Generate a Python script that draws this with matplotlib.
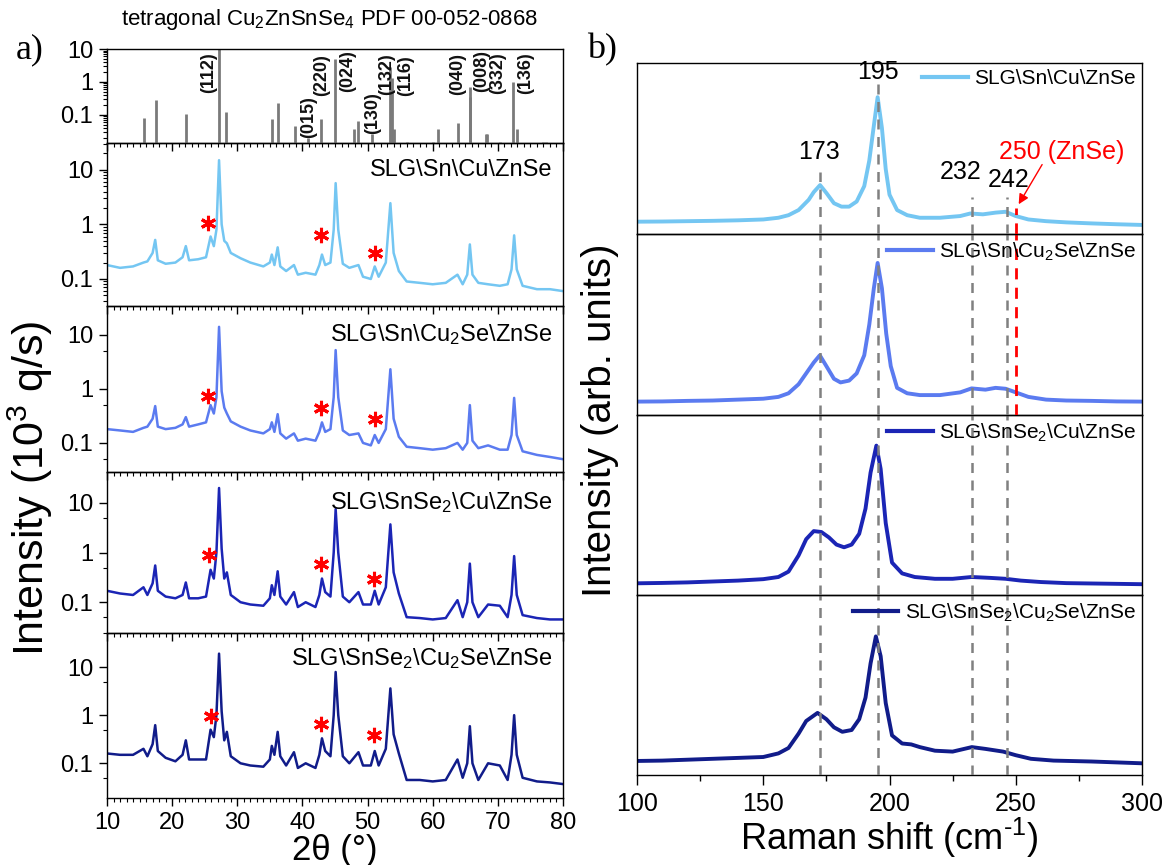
import matplotlib
matplotlib.use("Agg")
import matplotlib.pyplot as plt
from matplotlib.ticker import FixedLocator, MultipleLocator, LogLocator, NullFormatter, NullLocator, FixedFormatter

plt.rcParams['font.family'] = ['Liberation Sans', 'DejaVu Sans']
plt.rcParams['mathtext.fontset'] = 'custom'
plt.rcParams['mathtext.rm'] = 'Liberation Sans'
plt.rcParams['mathtext.it'] = 'Liberation Sans:italic'
plt.rcParams['mathtext.bf'] = 'Liberation Sans:bold'

# ---------------- data: (a) XRD ----------------
pdf_title = r"tetragonal Cu$_2$ZnSnSe$_4$ PDF 00-052-0868"
pdf_pos = [15.7, 17.5, 22.1, 27.2, 28.2, 35.3, 36.2, 38.9, 40.9, 42.8, 45.06, 47.96, 48.6, 50.7,
           53.4, 53.7, 54.1, 56.0, 60.0, 60.8, 63.9, 65.7, 65.8, 68.2, 68.4, 70.3, 72.3, 72.9, 76.9, 77.4]
pdf_int = [0.078, 0.28, 0.105, 10.0, 0.12, 0.075, 0.23, 0.046, 0.02, 0.076, 4.9, 0.036, 0.066, 0.027,
           2.9, 1.3, 0.037, 0.015, 0.015, 0.037, 0.057, 0.69, 0.35, 0.027, 0.027, 0.015, 1.0, 0.037, 0.015, 0.015]
hkl_labels = ["(112)", "(015)", "(220)", "(024)", "(130)", "(132)", "(116)", "(040)", "(008)", "(332)", "(136)"]
hkl_x = [25.65, 40.9, 43.0, 47.0, 50.7, 53.0, 55.8, 63.8, 67.5, 70.0, 74.3]
hkl_y = [1.9, 0.085, 1.6, 2.2, 0.11, 1.7, 1.6, 1.7, 2.2, 1.9, 1.9]

xrd_2theta = [10, 12, 14, 15.6, 16.2, 17.0, 17.4, 17.8, 19, 20.5, 21.6, 22.1, 22.6, 24, 25.2, 25.9, 26.4,
              26.8, 27.2, 27.6, 28.0, 28.4, 29, 30.5, 32, 34, 35.0, 35.3, 35.7, 36.2, 36.6, 37.5, 38.7,
              39.3, 40.5, 42, 42.6, 43.0, 43.5, 44.3, 44.8, 45.1, 45.5, 46.2, 47.2, 48.6, 49.3, 50.5, 51.1,
              51.7, 52.8, 53.5, 54.0, 54.8, 56, 58, 60, 62, 63.8, 64.6, 65.3, 65.7, 66.1, 67, 68.5, 70.3,
              71.5, 72.1, 72.5, 72.9, 73.8, 76, 78, 80]
xrd_sn_cu = [0.18, 0.16, 0.17, 0.2, 0.21, 0.3, 0.52, 0.22, 0.19, 0.2, 0.25, 0.40, 0.22, 0.23, 0.25, 0.6, 0.4,
             0.8, 15, 1.0, 0.5, 0.45, 0.3, 0.24, 0.2, 0.17, 0.2, 0.28, 0.18, 0.38, 0.17, 0.14, 0.18,
             0.12, 0.13, 0.12, 0.18, 0.28, 0.18, 0.2, 0.8, 5.7, 0.8, 0.19, 0.16, 0.18, 0.11, 0.1, 0.17,
             0.11, 0.2, 2.45, 0.3, 0.14, 0.09, 0.085, 0.08, 0.085, 0.12, 0.08, 0.12, 0.43, 0.12, 0.085, 0.08, 0.075,
             0.08, 0.15, 0.63, 0.15, 0.075, 0.065, 0.065, 0.06]
xrd_sn_cu2se = [0.18, 0.17, 0.16, 0.19, 0.2, 0.28, 0.48, 0.2, 0.18, 0.19, 0.22, 0.3, 0.2, 0.22, 0.24, 0.5, 0.35,
                0.7, 14, 0.9, 0.45, 0.35, 0.25, 0.2, 0.17, 0.15, 0.18, 0.24, 0.16, 0.34, 0.15, 0.12, 0.15,
                0.11, 0.12, 0.11, 0.16, 0.24, 0.16, 0.18, 0.7, 5.2, 0.7, 0.17, 0.14, 0.15, 0.1, 0.09, 0.14,
                0.1, 0.18, 2.3, 0.28, 0.13, 0.085, 0.08, 0.075, 0.08, 0.1, 0.075, 0.1, 0.5, 0.11, 0.08, 0.09, 0.075,
                0.075, 0.14, 0.68, 0.14, 0.07, 0.06, 0.055, 0.05]
xrd_snse2_cu = [0.17, 0.15, 0.14, 0.2, 0.14, 0.24, 0.55, 0.17, 0.13, 0.12, 0.14, 0.25, 0.12, 0.12, 0.13, 0.45, 0.3,
                1.0, 20, 1.2, 0.3, 0.4, 0.14, 0.1, 0.09, 0.085, 0.12, 0.22, 0.14, 0.42, 0.13, 0.09, 0.16,
                0.08, 0.1, 0.08, 0.14, 0.3, 0.16, 0.13, 1.0, 7.5, 1.0, 0.13, 0.1, 0.16, 0.09, 0.09, 0.17,
                0.09, 0.2, 3.7, 0.4, 0.15, 0.05, 0.048, 0.045, 0.048, 0.11, 0.05, 0.1, 0.6, 0.1, 0.05, 0.09, 0.085,
                0.05, 0.14, 0.85, 0.14, 0.055, 0.048, 0.045, 0.045]
xrd_snse2_cu2se = [0.16, 0.15, 0.15, 0.2, 0.14, 0.25, 0.62, 0.18, 0.13, 0.11, 0.15, 0.30, 0.12, 0.12, 0.12, 0.5, 0.35,
                   1.0, 19, 1.2, 0.3, 0.45, 0.14, 0.1, 0.09, 0.085, 0.12, 0.23, 0.15, 0.45, 0.14, 0.09, 0.17,
                   0.08, 0.1, 0.08, 0.15, 0.33, 0.18, 0.14, 1.0, 7.9, 1.0, 0.14, 0.1, 0.17, 0.09, 0.09, 0.18,
                   0.09, 0.2, 3.6, 0.4, 0.16, 0.045, 0.045, 0.042, 0.045, 0.12, 0.05, 0.1, 0.59, 0.1, 0.045, 0.1, 0.09,
                   0.045, 0.15, 1.0, 0.15, 0.05, 0.042, 0.04, 0.037]
xrd_series = [xrd_sn_cu, xrd_sn_cu2se, xrd_snse2_cu, xrd_snse2_cu2se]
sample_names = [r"SLG\Sn\Cu\ZnSe", r"SLG\Sn\Cu$_2$Se\ZnSe", r"SLG\SnSe$_2$\Cu\ZnSe", r"SLG\SnSe$_2$\Cu$_2$Se\ZnSe"]
star_x = [[25.5, 42.9, 51.1], [25.5, 42.9, 51.1], [25.7, 42.9, 51.0], [25.9, 42.8, 51.0]]
star_y = [[1.05, 0.65, 0.30], [0.75, 0.45, 0.28], [0.9, 0.6, 0.3], [0.95, 0.65, 0.39]]
name_y = [10, 10, 10, 15]

# ---------------- data: (b) Raman ----------------
raman_sn_cu_x = [100, 110, 120, 130, 140, 150, 156, 160, 164, 168, 170, 172.5, 175, 178, 181, 184, 187, 190, 192,
                 193.5, 195.3, 197, 198.5, 200, 203, 207, 212, 220, 228, 232, 237, 242, 246, 250, 255, 262, 270,
                 280, 290, 300]
raman_sn_cu_y = [0.072, 0.073, 0.075, 0.077, 0.08, 0.085, 0.095, 0.11, 0.14, 0.2, 0.245, 0.286, 0.24, 0.18, 0.16,
                 0.16, 0.19, 0.28, 0.43, 0.6, 0.8, 0.62, 0.38, 0.23, 0.14, 0.11, 0.095, 0.095, 0.105, 0.12, 0.115,
                 0.125, 0.13, 0.105, 0.085, 0.075, 0.068, 0.062, 0.057, 0.053]
raman_sn_cu2se_x = [100, 110, 120, 130, 140, 150, 156, 160, 164, 167, 170, 172.4, 175, 178, 180.6, 184, 187, 190,
                    192, 193.8, 195.3, 197, 198.7, 200.5, 203, 207, 212, 220, 228, 232.5, 238, 242, 246, 250, 255,
                    262, 270, 280, 290, 300]
raman_sn_cu2se_y = [0.074, 0.075, 0.078, 0.08, 0.085, 0.09, 0.1, 0.12, 0.17, 0.23, 0.29, 0.33, 0.27, 0.2, 0.18,
                    0.19, 0.23, 0.33, 0.5, 0.7, 0.84, 0.7, 0.45, 0.27, 0.15, 0.12, 0.11, 0.11, 0.125, 0.147, 0.14,
                    0.15, 0.145, 0.125, 0.1, 0.085, 0.08, 0.078, 0.075, 0.074]
raman_snse2_cu_x = [100, 110, 120, 130, 140, 150, 156, 160, 164, 167, 170, 173, 176, 179, 182, 185, 188, 190.5,
                    192.5, 194.8, 196.5, 198.5, 201, 205, 210, 218, 225, 232.5, 240, 246, 252, 260, 270, 280, 290, 300]
raman_snse2_cu_y = [0.065, 0.067, 0.07, 0.075, 0.08, 0.088, 0.1, 0.13, 0.22, 0.31, 0.355, 0.35, 0.32, 0.28, 0.265,
                    0.28, 0.34, 0.48, 0.68, 0.83, 0.7, 0.4, 0.18, 0.12, 0.1, 0.09, 0.09, 0.1, 0.095, 0.09, 0.08,
                    0.072, 0.066, 0.064, 0.062, 0.06]
raman_snse2_cu2se_x = [100, 110, 120, 130, 140, 150, 156, 160, 164, 167, 171.5, 175, 178, 181.3, 185, 188, 190.5,
                       192.5, 194.6, 196.5, 198.5, 201, 205, 208.6, 212, 218, 225, 232.6, 238, 245, 250, 256, 265,
                       280, 290, 300]
raman_snse2_cu2se_y = [0.078, 0.08, 0.085, 0.09, 0.095, 0.1, 0.12, 0.15, 0.23, 0.3, 0.345, 0.31, 0.265, 0.24, 0.25,
                       0.31, 0.43, 0.62, 0.77, 0.66, 0.4, 0.22, 0.175, 0.17, 0.155, 0.135, 0.13, 0.155, 0.145, 0.13,
                       0.11, 0.09, 0.08, 0.075, 0.07, 0.065]
raman_x = [raman_sn_cu_x, raman_sn_cu2se_x, raman_snse2_cu_x, raman_snse2_cu2se_x]
raman_y = [raman_sn_cu_y, raman_sn_cu2se_y, raman_snse2_cu_y, raman_snse2_cu2se_y]
raman_modes = [172.5, 195.5, 232.5, 246.5]
raman_mode_labels = ["173", "195", "232", "242"]
raman_label_x = [172.0, 195.3, 228.0, 247.2]
raman_label_y = [0.48, 0.947, 0.36, 0.315]
raman_mode_top = [0.364, 0.889, 0.218, 0.218]
znse_mode = 250

colors = ["#74c6f2", "#5b7bf0", "#1b25b5", "#111c8a"]

# ---------------- layout ----------------
W, H = 1164, 865
fig = plt.figure(figsize=(W / 100, H / 100), dpi=100)


def add_ax(x0, x1, top, bot):
    ax = fig.add_axes([x0 / W, 1 - bot / H, (x1 - x0) / W, (bot - top) / H])
    ax.patch.set_alpha(0)
    return ax


left_boxes = [(49, 143), (143, 306), (306, 472), (472, 633), (633, 798)]
left_ylims = [(0.014, 10), (0.032, 31), (0.029, 34), (0.024, 42), (0.019, 51)]
LX0, LX1 = 107, 563
tick_fs = 17

for i, (top, bot) in enumerate(left_boxes):
    ax = add_ax(LX0, LX1, top, bot)
    ax.set_zorder(10 - i)
    ax.set_yscale('log')
    ax.set_xlim(10, 80)
    ax.set_ylim(*left_ylims[i])
    ax.yaxis.set_major_locator(FixedLocator([0.1, 1, 10]))
    ax.yaxis.set_major_formatter(FixedFormatter(["0.1", "1", "10"]))
    if i <= 1:
        ax.yaxis.set_minor_locator(LogLocator(base=10, subs=[2, 3, 4, 5, 6, 7, 8, 9], numticks=20))
    else:
        ax.yaxis.set_minor_locator(LogLocator(base=10, subs=[5], numticks=20))
    ax.yaxis.set_minor_formatter(NullFormatter())
    ax.xaxis.set_major_locator(MultipleLocator(10))
    ax.xaxis.set_minor_locator(MultipleLocator(1))
    ax.tick_params(axis='y', which='major', direction='out', length=6, width=1, labelsize=tick_fs, pad=4)
    ax.tick_params(axis='y', which='minor', direction='out', length=3, width=0.8)
    ax.tick_params(axis='x', which='major', direction='out', length=6, width=1, labelsize=tick_fs, top=False, pad=4)
    ax.tick_params(axis='x', which='minor', direction='out', length=3, width=0.8, top=False)
    if i < 4:
        ax.tick_params(axis='x', labelbottom=False)
    for s in ax.spines.values():
        s.set_linewidth(1.0)
    if i == 0:
        ax.vlines(pdf_pos, 1e-4, pdf_int, color='#7a7a7a', lw=2)
        for lab, hx, hy in zip(hkl_labels, hkl_x, hkl_y):
            ax.text(hx, hy, lab, rotation=90, ha='center', va='center', fontsize=13, fontweight='bold',
                    color='#111111')
    else:
        k = i - 1
        ax.plot(xrd_2theta, xrd_series[k], color=colors[k], lw=1.8)
        ax.plot(star_x[k], star_y[k], linestyle='none', marker=(6, 2, 0), ms=11, mew=2.2, color='red')
        ax.text(78.3, name_y[k], sample_names[k], ha='right', va='center', fontsize=17)
    if i == 4:
        ax.set_xlabel(u"2\u03b8 (\u00b0)", fontsize=25, labelpad=0)

fig.text(330 / W, 1 - 20 / H, pdf_title, ha='center', va='center', fontsize=16)
fig.text(30 / W, 1 - 488 / H, r"Intensity (10$^3$ q/s)", rotation=90, ha='center', va='center', fontsize=31)
fig.text(30 / W, 1 - 50 / H, "a)", fontsize=26, family='Liberation Serif', ha='center', va='center')
fig.text(602 / W, 1 - 50 / H, "b)", fontsize=26, family='Liberation Serif', ha='center', va='center')

# right panels
RX0, RX1 = 637, 1142
right_edges = [63, 234, 415, 595, 775]
for k in range(4):
    top, bot = right_edges[k], right_edges[k + 1]
    ax = add_ax(RX0, RX1, top, bot)
    ax.set_zorder(10 - k)
    ax.set_xlim(100, 300)
    ax.set_ylim(0, 1)
    ax.yaxis.set_major_locator(NullLocator())
    ax.plot(raman_x[k], raman_y[k], color=colors[k], lw=2.8, label=sample_names[k], zorder=2)
    for m, mt in zip(raman_modes, raman_mode_top):
        ymax = mt if k == 0 else 1
        ax.axvline(m, ymin=0, ymax=ymax, color='#808080', lw=1.8, ls=(0, (4, 3)), zorder=3)
    if k == 0:
        ax.axvline(znse_mode, ymin=0, ymax=0.15, color='red', lw=2, ls=(0, (4, 3)), zorder=3)
        for lx, lab, ly in zip(raman_label_x, raman_mode_labels, raman_label_y):
            ax.text(lx, ly, lab, ha='center', va='center', fontsize=18)
        ax.text(268, 0.48, "250 (ZnSe)", color='red', ha='center', va='center', fontsize=18)
        ax.annotate("", xy=(250.6, 0.16), xytext=(261, 0.42),
                    arrowprops=dict(arrowstyle='-|>', color='red', lw=1, mutation_scale=15))
    if k == 1:
        ax.axvline(znse_mode, ymin=0, ymax=1, color='red', lw=2, ls=(0, (4, 3)), zorder=3)
    leg = ax.legend(loc='upper right', frameon=False, fontsize=15, handlelength=2.2,
                    handletextpad=0.3, borderaxespad=0.1, borderpad=0.2)
    for ln in leg.get_lines():
        ln.set_linewidth(3)
    ax.xaxis.set_major_locator(MultipleLocator(50))
    ax.xaxis.set_minor_locator(MultipleLocator(25))
    if k < 3:
        ax.tick_params(axis='x', which='both', bottom=False, labelbottom=False)
    else:
        ax.tick_params(axis='x', which='major', direction='out', length=7, width=1, labelsize=18, pad=5)
        ax.tick_params(axis='x', which='minor', direction='out', length=4, width=1)
        ax.set_xlabel("Raman shift (cm$^{\u20101}$)", fontsize=26, labelpad=0)
    for s in ax.spines.values():
        s.set_linewidth(1.0)

fig.text(600 / W, 1 - 420 / H, "Intensity (arb. units)", rotation=90, ha='center', va='center', fontsize=29)

fig.savefig("out.png", dpi=100)
